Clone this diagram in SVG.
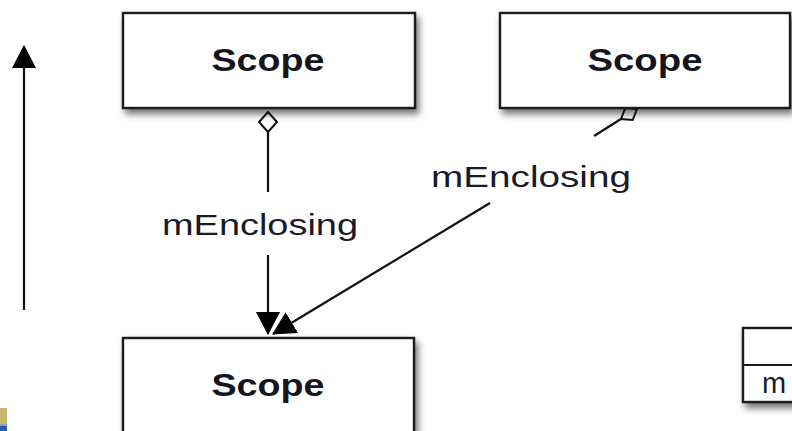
<svg xmlns="http://www.w3.org/2000/svg" width="792" height="431" viewBox="0 0 792 431">
<style>
.box{fill:#fff;stroke:#1a1a1a;stroke-width:2.4;filter:url(#sh)}
.title{font-family:"Liberation Sans",Arial,sans-serif;font-weight:bold;font-size:32px;fill:#151520;text-anchor:middle}
.lbl{font-family:"Liberation Sans",Arial,sans-serif;font-size:29px;fill:#1a1a28}
.ln{stroke:#111;stroke-width:2.2;fill:none}
</style>
<defs>
<filter id="sh" x="-10%" y="-20%" width="130%" height="150%">
<feDropShadow dx="3" dy="5" stdDeviation="3.5" flood-color="#000" flood-opacity="0.55"/>
</filter>
<marker id="arr" viewBox="0 0 24 24" refX="22" refY="12" markerWidth="24" markerHeight="24" markerUnits="userSpaceOnUse" orient="auto">
<path d="M0,0 L23,12 L0,24 Z" fill="#000"/>
</marker>
</defs>
<g id="connectors">
<line class="ln" x1="24" y1="310" x2="24" y2="46" marker-end="url(#arr)"/>
<line class="ln" x1="268" y1="132" x2="268" y2="192"/>
<line class="ln" x1="268" y1="255" x2="268" y2="334" marker-end="url(#arr)"/>
<path d="M268,112 L277,122 L268,132 L259,122 Z" fill="#fff" stroke="#111" stroke-width="2"/>
<line class="ln" x1="621" y1="119" x2="594" y2="136"/>
<line class="ln" x1="490" y1="203" x2="273" y2="334" marker-end="url(#arr)"/>
<path d="M637,109 L632.7,120 L621,119 L625.3,108 Z" fill="#fff" stroke="#111" stroke-width="2"/>
<text class="lbl" x="162" y="235" textLength="196" lengthAdjust="spacingAndGlyphs">mEnclosing</text>
<text class="lbl" x="431" y="187" textLength="200" lengthAdjust="spacingAndGlyphs">mEnclosing</text>
</g>
<g id="scope1">
<rect class="box" x="123" y="13" width="292" height="95"/>
<text class="title" x="268" y="71" textLength="113" lengthAdjust="spacingAndGlyphs">Scope</text>
</g>
<g id="scope2">
<rect class="box" x="500" y="13" width="290" height="95"/>
<text class="title" x="645" y="71" textLength="115" lengthAdjust="spacingAndGlyphs">Scope</text>
</g>
<g id="scope3">
<rect class="box" x="123" y="338" width="291" height="120"/>
<text class="title" x="268" y="396" textLength="113" lengthAdjust="spacingAndGlyphs">Scope</text>
</g>
<g id="classbox">
<rect class="box" x="743" y="328" width="80" height="74"/>
<line x1="743" y1="365" x2="800" y2="365" stroke="#1a1a1a" stroke-width="2"/>
<text class="lbl" x="762" y="393" font-size="26">m</text>
</g>
<g id="corner">
<rect x="0" y="408" width="7" height="16" fill="#c8b46e"/>
<rect x="0" y="424" width="7" height="2" fill="#9aa0a8"/>
<rect x="0" y="426" width="7" height="5" fill="#1f5fa8"/>
</g>
</svg>
